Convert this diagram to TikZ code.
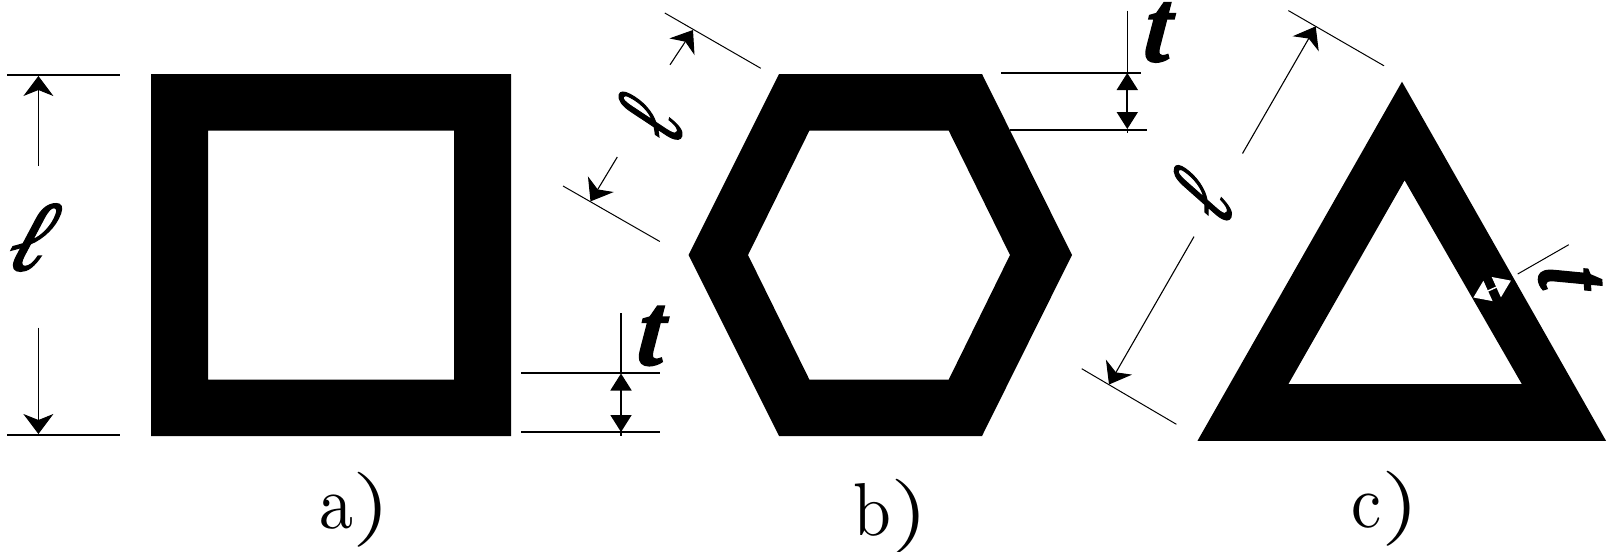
\documentclass[tikz,border=0pt]{standalone}
\usepackage{fontspec}
\newfontfamily\lablfont{Liberation Serif}[BoldItalicFeatures={FakeBold=1.5}]
\usetikzlibrary{arrows.meta}
\tikzset{
  extline/.style={line width=1pt,black},
  thinline/.style={line width=0.5pt,black},
  dimline/.style={line width=0.55pt,black},
  bigtip/.style={-{Stealth[length=10pt,width=15pt,inset=3pt]}},
  smalltip/.style={{Stealth[length=8.5pt,width=10.5pt,inset=0pt]}-{Stealth[length=8.5pt,width=10.5pt,inset=0pt]}},
  solid shape/.style={fill=black,draw=none,even odd rule},
  caption/.style={anchor=base west,inner sep=0pt,outer sep=0pt,xscale=3.4,yscale=3.75},
  lab/.style={inner sep=0pt,outer sep=0pt,font=\lablfont\bfseries\itshape}
}
\newcommand{\wideparen}{\scalebox{1.45}[1]{)}}
\begin{document}
\begin{tikzpicture}[x=0.5pt,y=-0.5pt]
\useasboundingbox (0,0) rectangle (1614,552);
% shapes
\path[solid shape] (151,74) rectangle (511,436) (208,130.6) rectangle (454,379.6);
\path[solid shape] (779,74) -- (982,74) -- (1072,255) -- (982,436) -- (779,436) -- (688.5,255) -- cycle
  (809.4,130.6) -- (948.7,130.6) -- (1010,255) -- (948.7,379.6) -- (809.4,379.6) -- (748,255) -- cycle;
\path[solid shape] (1402,81.7) -- (1197.5,440.8) -- (1606,440.8) -- cycle
  (1404.6,180.3) -- (1288.4,384) -- (1521.8,384) -- cycle;
% coordinates
\coordinate (a1) at (7,75);   \coordinate (a2) at (120,75);
\coordinate (a3) at (7,435);  \coordinate (a4) at (120,435);
\coordinate (a5) at (38.4,166);   \coordinate (a6) at (38.4,76);
\coordinate (a7) at (38.4,327.5); \coordinate (a8) at (38.4,434);
\coordinate (b1) at (521,373);  \coordinate (b2) at (660,373);
\coordinate (b3) at (521,432.4);\coordinate (b4) at (660,432.4);
\coordinate (b5) at (621,313);  \coordinate (b6) at (621,373.5);
\coordinate (b7) at (621,432);  \coordinate (b8) at (621,436);
\coordinate (c1) at (664.8,13);  \coordinate (c2) at (760.8,68.3);
\coordinate (c3) at (563,186);   \coordinate (c4) at (659.8,241.5);
\coordinate (c5) at (670,64.8);  \coordinate (c6) at (693,30);
\coordinate (c7) at (617.3,157); \coordinate (c8) at (590.5,201.4);
\coordinate (d1) at (1001,72.5);  \coordinate (d2) at (1140.6,72.5);
\coordinate (d3) at (1010,129.6); \coordinate (d4) at (1147.4,129.6);
\coordinate (d5) at (1127.3,10.6);\coordinate (d6) at (1127.3,73);
\coordinate (d7) at (1127.3,129); \coordinate (d8) at (1127.3,133);
\coordinate (e1) at (1288.4,10.6);\coordinate (e2) at (1384,65.8);
\coordinate (e3) at (1081.7,368.7);\coordinate (e4) at (1176.4,424.3);
\coordinate (e5) at (1242.5,153.5);\coordinate (e6) at (1315.7,26.4);
\coordinate (e7) at (1194,236.6); \coordinate (e8) at (1109,384.5);
\coordinate (f1) at (1473.4,297.5);\coordinate (f2) at (1510.9,280.6);
\coordinate (f3) at (1517.7,274);  \coordinate (f4) at (1568.8,244.7);
% extension lines
\draw[extline] (a1) -- (a2);
\draw[extline] (a3) -- (a4);
\draw[extline] (b1) -- (b2);
\draw[extline] (b3) -- (b4);
\draw[extline] (d1) -- (d2);
\draw[extline] (d3) -- (d4);
\draw[thinline] (c1) -- (c2);
\draw[thinline] (c3) -- (c4);
\draw[thinline] (e1) -- (e2);
\draw[thinline] (e3) -- (e4);
\draw[thinline] (f3) -- (f4);
% dimension arrows
\draw[dimline,bigtip] (a5) -- (a6);
\draw[dimline,bigtip] (a7) -- (a8);
\draw[dimline] (b5) -- (b6);
\draw[line width=0.9pt,smalltip] (b6) -- (b7);
\draw[dimline] (b7) -- (b8);
\draw[dimline,bigtip] (c5) -- (c6);
\draw[dimline,bigtip] (c7) -- (c8);
\draw[dimline] (d5) -- (d6);
\draw[line width=0.9pt,smalltip] (d6) -- (d7);
\draw[dimline] (d7) -- (d8);
\draw[dimline,bigtip] (e5) -- (e6);
\draw[dimline,bigtip] (e7) -- (e8);
\draw[white,line width=0.7pt,{Stealth[length=8pt,width=11pt,inset=0pt]}-{Stealth[length=8pt,width=11pt,inset=0pt]}] (f1) -- (f2);
% labels
\node[lab,xscale=4.6,yscale=5,xslant=0.4] (la) at (35,237.5) {ℓ};
\node[lab,rotate=76,xscale=3.2,yscale=5.2,xslant=0.4] (lb) at (650,117.5) {ℓ};
\node[lab,rotate=68,xscale=3.2,yscale=5.2,xslant=0.4] (lc) at (1202,194.5) {ℓ};
\node[lab,xscale=4.8,yscale=5.2,xslant=0.1] (ta) at (651.5,336) {t};
\node[lab,xscale=4.8,yscale=5.2,xslant=0.1] (tb) at (1158,32.5) {t};
\node[lab,rotate=-88,xscale=4,yscale=5.5] (tc) at (1570,278) {t};
\node[caption] (ca) at (319,528) {a\wideparen};
\node[caption] (cb) at (853,535) {b\wideparen};
\node[caption] (cc) at (1351,527.5) {c\wideparen};
\end{tikzpicture}
\end{document}
